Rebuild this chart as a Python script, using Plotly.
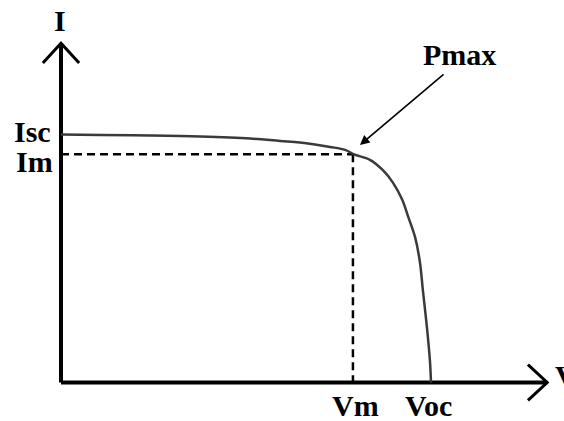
import plotly.graph_objects as go

# I-V curve of a solar cell (V in units with Voc=10, I with Isc=5)
volts = [0.0, 1.05, 2.41, 3.76, 5.11, 5.92, 6.46, 7.27, 7.68, 7.92, 8.35, 8.70, 8.97,
         9.22, 9.38, 9.57, 9.70, 9.78, 9.89, 9.97, 10.0]
amps = [5.00, 4.99, 4.98, 4.96, 4.92, 4.87, 4.84, 4.75, 4.69, 4.60, 4.49, 4.28, 4.03,
        3.69, 3.35, 2.93, 2.43, 1.86, 1.11, 0.45, 0.0]

isc = 5.0
im = 4.60
vm = 7.89
voc = 10.0
v_end = 13.14
i_end = 6.84

font = dict(family="Liberation Serif", size=30, color="black")

fig = go.Figure()

# axes with open arrow heads
fig.add_trace(go.Scatter(x=[0, v_end], y=[0, 0], mode="lines", line=dict(color="black", width=4)))
fig.add_trace(go.Scatter(x=[0, 0], y=[0, i_end], mode="lines", line=dict(color="black", width=4)))
fig.add_trace(go.Scatter(x=[-0.49, 0, 0.49], y=[i_end - 0.40, i_end, i_end - 0.40], mode="lines",
                         line=dict(color="black", width=3)))
fig.add_trace(go.Scatter(x=[v_end - 0.52, v_end, v_end - 0.52], y=[0.36, 0, -0.36], mode="lines",
                         line=dict(color="black", width=3)))

# dashed guides to the max power point
fig.add_trace(go.Scatter(x=[0, vm], y=[im, im], mode="lines",
                         line=dict(color="black", width=2.5, dash="8px,5px")))
fig.add_trace(go.Scatter(x=[vm, vm], y=[im, 0], mode="lines",
                         line=dict(color="black", width=2.5, dash="8px,5px")))

# the curve
fig.add_trace(go.Scatter(x=volts, y=amps, mode="lines", line=dict(color="#3a3a3a", width=2.5, shape="spline")))

# labels
labels = [
    ("I", -0.03, 7.29, "center"),
    ("Isc", -0.22, 5.07, "right"),
    ("Im", -0.16, 4.45, "right"),
    ("Vm", 7.97, -0.47, "center"),
    ("Voc", 9.92, -0.47, "center"),
    ("Pmax", 10.78, 6.62, "center"),
    ("V", 13.30, 0.15, "left"),
]
for txt, x, y, anc in labels:
    fig.add_annotation(x=x, y=y, text="<b>" + txt + "</b>", showarrow=False, xanchor=anc,
                       yanchor="middle", font=font)

# Pmax pointer
fig.add_annotation(x=8.08, y=4.79, ax=10.38, ay=6.24, axref="x", ayref="y", text="",
                   showarrow=True, arrowhead=2, arrowsize=1.2, arrowwidth=1.6, arrowcolor="black")

fig.update_layout(
    width=564, height=421,
    margin=dict(l=0, r=0, t=0, b=0),
    paper_bgcolor="white", plot_bgcolor="white",
    showlegend=False,
    xaxis=dict(visible=False, range=[-1.6486, 13.5946], fixedrange=True),
    yaxis=dict(visible=False, range=[-0.7762, 7.7117], fixedrange=True),
)

# drop the page's default body margin so the figure sits at the corner
fig.write_html("out.html", config={"displayModeBar": False},
               post_script="document.body.style.margin='0';document.body.style.overflow='hidden';")
